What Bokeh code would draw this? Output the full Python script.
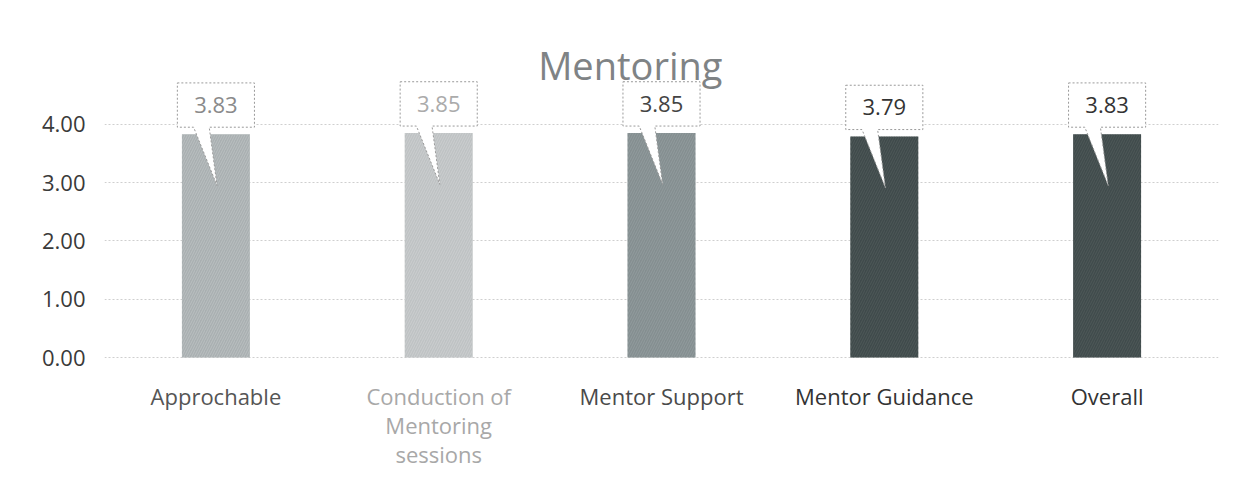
from bokeh.plotting import figure
from bokeh.models import (FactorRange, Range1d, FixedTicker, NumeralTickFormatter,
                          ColumnDataSource)
from bokeh.core.properties import value
from bokeh.embed import file_html
from bokeh.resources import INLINE

# ---- data ----
categories = ["Approchable", "Conduction of Mentoring sessions", "Mentor Support",
              "Mentor Guidance", "Overall"]
tick_labels = ["Approchable", "Conduction of\nMentoring\nsessions", "Mentor Support",
               "Mentor Guidance", "Overall"]
values = [3.83, 3.85, 3.85, 3.79, 3.83]
value_labels = ["3.83", "3.85", "3.85", "3.79", "3.83"]
y_ticks = [0, 1, 2, 3, 4]
title_text = "Mentoring"

# ---- styles ----
bar_colors = ["#a9afb1", "#bec2c3", "#848e90", "#3f4a4b", "#404b4c"]
hatch_colors = ["#c4c9ca", "#d3d6d7", "#9aa3a5", "#56605f", "#56605f"]
value_colors = ["#8a8a8a", "#ababab", "#444444", "#333333", "#333333"]
cat_colors = ["#555555", "#a8a8a8", "#4a4a4a", "#333333", "#333333"]
FONT = "Open Sans"

W, H = 1234, 482
LEFT, RIGHT = 104, 16
px_per_unit = 58.3
zero_px = 357
y_end = zero_px / px_per_unit
y_start = -(H - zero_px) / px_per_unit

p = figure(width=W, height=H, output_backend="svg", toolbar_location=None,
           x_range=FactorRange(*categories), y_range=Range1d(y_start, y_end),
           x_axis_location=None, min_border_left=LEFT, min_border_right=RIGHT,
           min_border_top=0, min_border_bottom=0)
p.outline_line_color = None
p.background_fill_color = "white"
p.border_fill_color = "white"

p.xgrid.visible = False
p.ygrid.ticker = FixedTicker(ticks=y_ticks)
p.ygrid.grid_line_color = "#cfcfcf"
p.ygrid.grid_line_dash = "2 2"
p.ygrid.grid_line_width = 1

ya = p.yaxis[0]
ya.ticker = FixedTicker(ticks=y_ticks)
ya.formatter = NumeralTickFormatter(format="0.00")
ya.axis_line_color = None
ya.major_tick_line_color = None
ya.major_tick_out = 0
ya.major_tick_in = 0
ya.minor_tick_line_color = None
ya.minor_tick_out = 0
ya.major_label_standoff = 19
ya.major_label_text_font = FONT
ya.major_label_text_font_size = "22px"
ya.major_label_text_color = "#3a3a3a"

n = len(categories)
src = ColumnDataSource(dict(cat=categories, val=values, color=bar_colors, hcolor=hatch_colors))
p.vbar(x="cat", top="val", bottom=0, width=0.305, source=src,
       fill_color="color", line_color=None,
       hatch_pattern="/", hatch_color="hcolor", hatch_scale=5, hatch_weight=1, hatch_alpha=0.6)

# callouts (box + pointer), computed from values through synthetic factor coords
xs, ys, tx, ty = [], [], [], []
for i, v in enumerate(values):
    c = i + 0.5
    hw = 0.173
    b, t = v + 0.12, v + 0.88
    xs.append([c - hw, c + hw, c + hw, c - 0.03, c + 0.005, c - 0.1, c - hw])
    ys.append([t, t, b, b, v - 0.88, b, b])
    tx.append(c)
    ty.append(v + 0.5)
p.patches(xs=xs, ys=ys, fill_color="white", line_color="#9a9a9a",
          line_dash="2 2", line_width=1)
p.text(x=tx, y=ty, text=value_labels, text_color=value_colors,
       text_align="center", text_baseline="middle",
       text_font=value(FONT), text_font_size="22px")

# category labels
p.text(x=categories, y=[-0.40] * n, text=tick_labels, text_color=cat_colors,
       text_align="center", text_baseline="top", text_line_height=0.97,
       text_font=value(FONT), text_font_size="22px")

# chart title
p.text(x=[2.36], y=[5.01], text=[title_text], text_color="#7f8385",
       text_align="center", text_baseline="middle",
       text_font=value(FONT), text_font_size="38px")

open("out.html", "w").write(file_html(p, INLINE))
